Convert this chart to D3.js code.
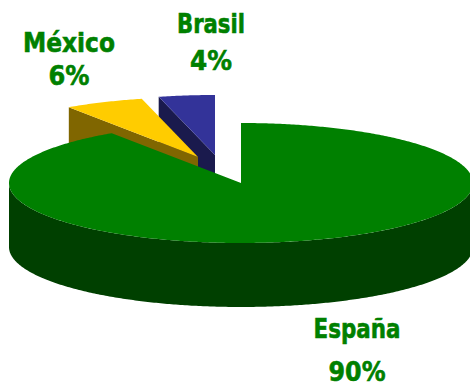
<!DOCTYPE html>
<html>
<head>
<meta charset="utf-8">
<script src="https://cdn.jsdelivr.net/npm/d3@7"></script>
<style>
  body { margin: 0; background: #fff; }
  svg { display: block; }
</style>
</head>
<body>
<div id="chart"></div>
<script>
// data
const categories = ["España", "México", "Brasil"];
const values = [90.6, 5.5, 3.9];
const percentLabels = ["90%", "6%", "4%"];
const topColors = ["#008000", "#FFCC00", "#333399"];
const sideColors = ["#004000", "#806600", "#1A1A4D"];

// layout
const W = 470, H = 386;
const cx = 241, cy = 183, rx = 232, ry = 60, depth = 64;
// exploded slices, pixel offsets of the apex
const explode = [[0, 0], [-43, -26], [-26, -28]];
// label anchor: x centre, baseline of name, baseline of percent, widths
const labelPos = [
  { x: 357, y1: 338, y2: 381, w1: 87, w2: 57 },
  { x: 69, y1: 52, y2: 85, w1: 92, w2: 41 },
  { x: 211, y1: 33, y2: 70, w1: 68, w2: 42 }
];

const svg = d3.select("#chart").append("svg")
  .attr("width", W)
  .attr("height", H);

const pie = d3.pie().sort(null).startAngle(0).endAngle(2 * Math.PI);
const arcs = pie(values).map((d, i) => {
  d.i = i;
  d.ox = cx + explode[i][0];
  d.oy = cy + explode[i][1];
  d.mid = (d.startAngle + d.endAngle) / 2;
  return d;
});

// projected point on ellipse for angle a (clockwise from top)
function pt(d, a, h) {
  return [d.ox + rx * Math.sin(a), d.oy - ry * Math.cos(a) + (h || 0)];
}

function arcPoints(d, a0, a1, h) {
  const n = Math.max(2, Math.ceil((a1 - a0) / 0.01));
  const pts = [];
  for (let k = 0; k <= n; k++) pts.push(pt(d, a0 + (a1 - a0) * k / n, h));
  return pts;
}

const line = d3.line();

// back slices first
const order = arcs.slice().sort((a, b) =>
  (a.oy - 0.5 * ry * Math.cos(a.mid)) - (b.oy - 0.5 * ry * Math.cos(b.mid)));

order.forEach(d => {
  const g = svg.append("g");
  const apex = [d.ox, d.oy];
  const apexB = [d.ox, d.oy + depth];

  // radial side at start angle (visible if facing front)
  if (Math.sin(d.startAngle) < -1e-6) {
    const p = pt(d, d.startAngle), pb = pt(d, d.startAngle, depth);
    g.append("path").attr("d", line([apex, p, pb, apexB]) + "Z")
      .attr("fill", sideColors[d.i]);
  }
  // radial side at end angle
  if (Math.sin(d.endAngle) > 1e-6) {
    const p = pt(d, d.endAngle), pb = pt(d, d.endAngle, depth);
    g.append("path").attr("d", line([apex, p, pb, apexB]) + "Z")
      .attr("fill", sideColors[d.i]);
  }
  // outer curved side, front half only
  const f0 = Math.max(d.startAngle, Math.PI / 2);
  const f1 = Math.min(d.endAngle, 3 * Math.PI / 2);
  if (f1 > f0) {
    const topArc = arcPoints(d, f0, f1, 0);
    const botArc = arcPoints(d, f0, f1, depth).reverse();
    g.append("path").attr("d", line(topArc.concat(botArc)) + "Z")
      .attr("fill", sideColors[d.i]);
  }
  // top face
  const top = [apex].concat(arcPoints(d, d.startAngle, d.endAngle, 0));
  g.append("path").attr("d", line(top) + "Z")
    .attr("fill", topColors[d.i]);
});

// labels
const labels = svg.append("g")
  .attr("font-family", "'DejaVu Sans', Verdana, sans-serif")
  .attr("font-weight", "bold")
  .attr("font-size", 27)
  .attr("fill", "#008000")
  .attr("stroke", "#008000")
  .attr("stroke-width", 0.6)
  .attr("text-anchor", "middle");

arcs.forEach(d => {
  const p = labelPos[d.i];
  labels.append("text")
    .attr("x", p.x).attr("y", p.y1)
    .attr("textLength", p.w1).attr("lengthAdjust", "spacingAndGlyphs")
    .text(categories[d.i]);
  labels.append("text")
    .attr("x", p.x).attr("y", p.y2)
    .attr("textLength", p.w2).attr("lengthAdjust", "spacingAndGlyphs")
    .text(percentLabels[d.i]);
});
</script>
</body>
</html>
